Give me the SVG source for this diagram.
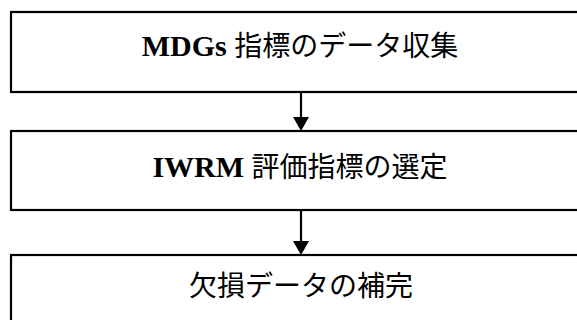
<svg xmlns="http://www.w3.org/2000/svg" width="577" height="320" viewBox="0 0 577 320">
<style>
.box{fill:#fff;stroke:#000;stroke-width:2.2}
.t{font-size:28px;fill:#000;text-anchor:middle}
.lat{font-family:"Liberation Serif","Noto Sans CJK JP",serif;font-weight:bold;font-size:30px}
.jp{font-family:"Noto Sans CJK JP",sans-serif}
.conn{stroke:#000;stroke-width:2.2;fill:none}
</style>
<rect width="577" height="320" fill="#fff"/>
<g id="connectors">
<line class="conn" x1="301" y1="92" x2="301" y2="118"/>
<path d="M293,117 L309,117 L301,131 z" fill="#000"/>
<line class="conn" x1="301" y1="210" x2="301" y2="242"/>
<path d="M293,241 L309,241 L301,255 z" fill="#000"/>
</g>
<g id="n1">
<rect class="box" x="11" y="12" width="600" height="80"/>
<text class="t" x="300" y="56"><tspan class="lat">MDGs </tspan><tspan class="jp">指標のデータ収集</tspan></text>
</g>
<g id="n2">
<rect class="box" x="11" y="131" width="600" height="79"/>
<text class="t" x="300" y="177"><tspan class="lat">IWRM </tspan><tspan class="jp">評価指標の選定</tspan></text>
</g>
<g id="n3">
<rect class="box" x="11" y="255" width="600" height="100"/>
<text class="t jp" x="301" y="296">欠損データの補完</text>
</g>
</svg>
